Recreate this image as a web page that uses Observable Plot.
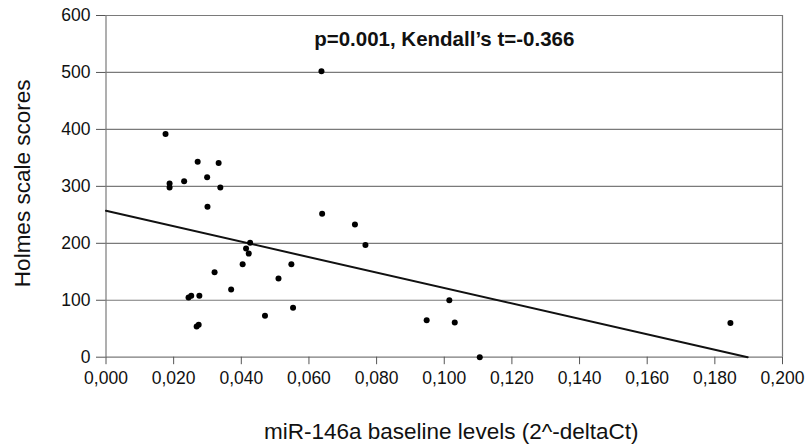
<!DOCTYPE html>
<html>
<head>
<meta charset="utf-8">
<script src="https://cdn.jsdelivr.net/npm/d3@7"></script>
<script src="https://cdn.jsdelivr.net/npm/@observablehq/plot@0.6"></script>
<style>
  html, body { margin: 0; padding: 0; background: #fff; }
</style>
</head>
<body>
<div id="chart"></div>
<script>
// miR-146a baseline levels (x) vs Holmes scale scores (y)
const mirLevels = [0.0637, 0.0176, 0.0271, 0.0333, 0.0188, 0.0188, 0.0231, 0.0299, 0.0338, 0.0300,
                   0.0639, 0.0426, 0.0414, 0.0422, 0.0404, 0.0548, 0.0321, 0.0510, 0.0370, 0.0244,
                   0.0252, 0.0276, 0.0470, 0.0553, 0.0268, 0.0274, 0.0736, 0.0767, 0.1015, 0.0948,
                   0.1031, 0.1105, 0.1846];
const holmesScores = [502, 392, 343, 341, 305, 298, 309, 316, 298, 264,
                      252, 201, 191, 182, 163, 163, 149, 138, 119, 105,
                      108, 108, 73, 87, 54, 57, 233, 197, 100, 65,
                      61, 0, 60];
// regression line end points
const trendX = [0, 0.1897];
const trendY = [257, 0];
const xTicks = [0, 0.02, 0.04, 0.06, 0.08, 0.10, 0.12, 0.14, 0.16, 0.18, 0.20];
const yTicks = [0, 100, 200, 300, 400, 500, 600];
const xTitle = "miR-146a baseline levels (2^-deltaCt)";
const yTitle = "Holmes scale scores";
const annotation = "p=0.001, Kendall\u2019s t=-0.366";

const points = mirLevels.map((x, i) => ({x, y: holmesScores[i]}));
const trend = trendX.map((x, i) => ({x, y: trendY[i]}));

const chart = Plot.plot({
  width: 807,
  height: 448,
  marginLeft: 105.5,
  marginRight: 25,
  marginTop: 15,
  marginBottom: 91.3,
  style: {fontFamily: "'Liberation Sans', Arial, sans-serif", fontSize: "17.5px", color: "#111", background: "#fff"},
  x: {domain: [0, 0.2], label: null},
  y: {domain: [0, 600], label: null},
  marks: [
    Plot.ruleY(yTicks, {stroke: "#7a7a7a", strokeWidth: 1.2}),
    Plot.ruleX([0, 0.2], {stroke: "#7a7a7a", strokeWidth: 1.2}),
    Plot.axisX({ticks: xTicks, tickSize: 7.5, tickPadding: 7, stroke: "#555",
                tickFormat: d => d.toFixed(3).replace(".", ","), label: null, fill: "#111"}),
    Plot.axisY({ticks: yTicks, tickSize: 9.5, tickPadding: 6, stroke: "#555",
                tickFormat: d => String(d), label: null, fill: "#111"}),
    Plot.line(trend, {x: "x", y: "y", stroke: "#111", strokeWidth: 2}),
    Plot.dot(points, {x: "x", y: "y", r: 3, fill: "#000", stroke: "none"}),
    Plot.text([annotation], {frameAnchor: "top", dy: 24, lineAnchor: "middle",
               fontWeight: "bold", fontSize: 20.5, fill: "#111"}),
    Plot.text([xTitle], {frameAnchor: "bottom", dy: 75, dx: 7, lineAnchor: "middle",
               fontSize: 22.5, fill: "#111"}),
    Plot.text([yTitle], {frameAnchor: "left", dx: -83, dy: -3, rotate: -90, lineAnchor: "middle",
               textAnchor: "middle", fontSize: 22.5, fill: "#111"})
  ]
});
document.getElementById("chart").appendChild(chart);
</script>
</body>
</html>
